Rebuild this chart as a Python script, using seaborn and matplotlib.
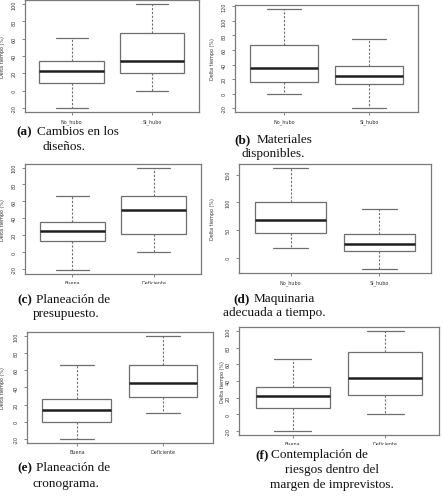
import numpy as np
import matplotlib.pyplot as plt
import pandas as pd
import seaborn as sns
from matplotlib.patches import Rectangle

W, H = 443, 502

# five-number summaries: whisker low, Q1, median, Q3, whisker high
grupos_hubo = ['No_hubo', 'Si_hubo']
grupos_plan = ['Buena', 'Deficiente']

a_no_hubo = [-20, 8.5, 22.4, 34, 60.6]
a_si_hubo = [0, 20, 34.6, 66.7, 100]
b_no_hubo = [0, 16.8, 35, 66.4, 116.4]
b_si_hubo = [-19.5, 13.6, 25, 37.7, 75]
c_buena = [-21, 13, 25, 36, 66.3]
c_deficiente = [0, 22, 49.7, 66.3, 99.4]
d_no_hubo = [17.7, 45.3, 67.3, 100.4, 162]
d_si_hubo = [-20.2, 12.2, 25.7, 42.8, 87.5]
e_buena = [-20.2, 0, 14, 27, 66.7]
e_deficiente = [10, 29, 44.6, 66.7, 100]
f_buena = [-20, 8.2, 21.5, 32.4, 66.8]
f_deficiente = [0, 23, 43.8, 74.6, 100]

ticks_20 = [-20, 0, 20, 40, 60, 80, 100]
ticks_b = [-20, 0, 20, 40, 60, 80, 100, 120]
ticks_d = [0, 50, 100, 150]

caption_a = ['(a)', 'Cambios en los', 'diseños.']
caption_b = ['(b)', 'Materiales', 'disponibles.']
caption_c = ['(c)', 'Planeación de', 'presupuesto.']
caption_d = ['(d)', 'Maquinaria', 'adecuada a tiempo.']
caption_e = ['(e)', 'Planeación de', 'cronograma.']
caption_f = ['(f)', 'Contemplación de', 'riesgos dentro del', 'margen de imprevistos.']


def make_df(grupos, v1, v2):
    return pd.DataFrame({'grupo': [grupos[0]] * len(v1) + [grupos[1]] * len(v2),
                         'delta': v1 + v2})


def fx(x):
    return x / W


def fy(y):
    return 1 - y / H


sns.set_style('white')
plt.rcParams['font.family'] = ['DejaVu Sans']

fig = plt.figure(figsize=(W / 100, H / 100), dpi=100)

# panel: data, ticks, frame box in pixels (x0, y0, x1, y1), ylabel x in pixels
panels = [
    (make_df(grupos_hubo, a_no_hubo, a_si_hubo), ticks_20, (25, 1, 199, 113), 5),
    (make_df(grupos_hubo, b_no_hubo, b_si_hubo), ticks_b, (235, 6, 418, 113), 215),
    (make_df(grupos_plan, c_buena, c_deficiente), ticks_20, (25, 165, 201, 275), 5),
    (make_df(grupos_hubo, d_no_hubo, d_si_hubo), ticks_d, (239, 165, 431, 274), 215),
    (make_df(grupos_plan, e_buena, e_deficiente), ticks_20, (27, 333, 213, 444), 5),
    (make_df(grupos_plan, f_buena, f_deficiente), ticks_20, (239, 328, 439, 436), 225),
]

for df, ticks, (x0, y0, x1, y1), ylab_x in panels:
    ax = fig.add_axes([fx(x0), fy(y1), (x1 - x0) / W, (y1 - y0) / H])
    sns.boxplot(data=df, x='grupo', y='delta', ax=ax, whis=np.inf, width=0.8,
                color='white', linecolor='#6e6e6e', linewidth=0.9,
                medianprops={'color': '#1e1e1e', 'linewidth': 1.8},
                whiskerprops={'linestyle': (0, (2, 1.5)), 'linewidth': 0.8},
                capprops={'linewidth': 0.9})
    lo, hi = df['delta'].min(), df['delta'].max()
    r = hi - lo
    ax.set_ylim(lo - 0.04 * r, hi + 0.04 * r)
    ax.set_xlim(-0.58, 1.58)
    ax.set_yticks(ticks)
    ax.set_yticklabels([str(t) for t in ticks], rotation=90, va='center', fontsize=3.5,
                       color='#333333')
    ax.tick_params(axis='x', labelsize=3.5, pad=2, labelcolor='#333333')
    ax.tick_params(direction='out', length=2.5, width=0.5, color='#555555', left=True, bottom=True)
    ax.set_xlabel('')
    ax.set_ylabel('Delta tiempo (%)', fontsize=3.5, color='#333333')
    ax.yaxis.set_label_coords((ylab_x - x0) / (x1 - x0), 0.5)
    for s in ax.spines.values():
        s.set_color('#7a7a7a')
        s.set_linewidth(0.9)

# the source figures were trimmed through their x labels in (c) and (f)
for rx0, ry0, rx1, ry1 in [(28, 284.5, 205, 292), (245, 446, 442, 450)]:
    fig.patches.append(Rectangle((fx(rx0), fy(ry1)), (rx1 - rx0) / W, (ry1 - ry0) / H,
                                 transform=fig.transFigure, facecolor='white',
                                 edgecolor='none', zorder=10))

# captions: (label x, text x, first line y, centre x of following lines, their y)
caption_pos = [
    (caption_a, 16, 37, 132, 64, [147]),
    (caption_b, 234, 257, 140, 273, [154]),
    (caption_c, 17, 36, 300, 66, [314]),
    (caption_d, 233, 254, 299, 274, [313]),
    (caption_e, 17, 36, 468, 66, [484]),
    (caption_f, 255, 271, 455, 332, [470, 485]),
]

serif = ['Liberation Serif', 'DejaVu Serif']
for cap, lx, tx, ty, cx, ys in caption_pos:
    fig.text(fx(lx), fy(ty), cap[0], family=serif, fontsize=9.5, fontweight='bold',
             ha='left', va='center', color='#111111')
    fig.text(fx(tx), fy(ty), cap[1], family=serif, fontsize=9.5,
             ha='left', va='center', color='#111111')
    for line, yy in zip(cap[2:], ys):
        fig.text(fx(cx), fy(yy), line, family=serif, fontsize=9.5,
                 ha='center', va='center', color='#111111')

fig.savefig('out.png', dpi=100, facecolor='white')
